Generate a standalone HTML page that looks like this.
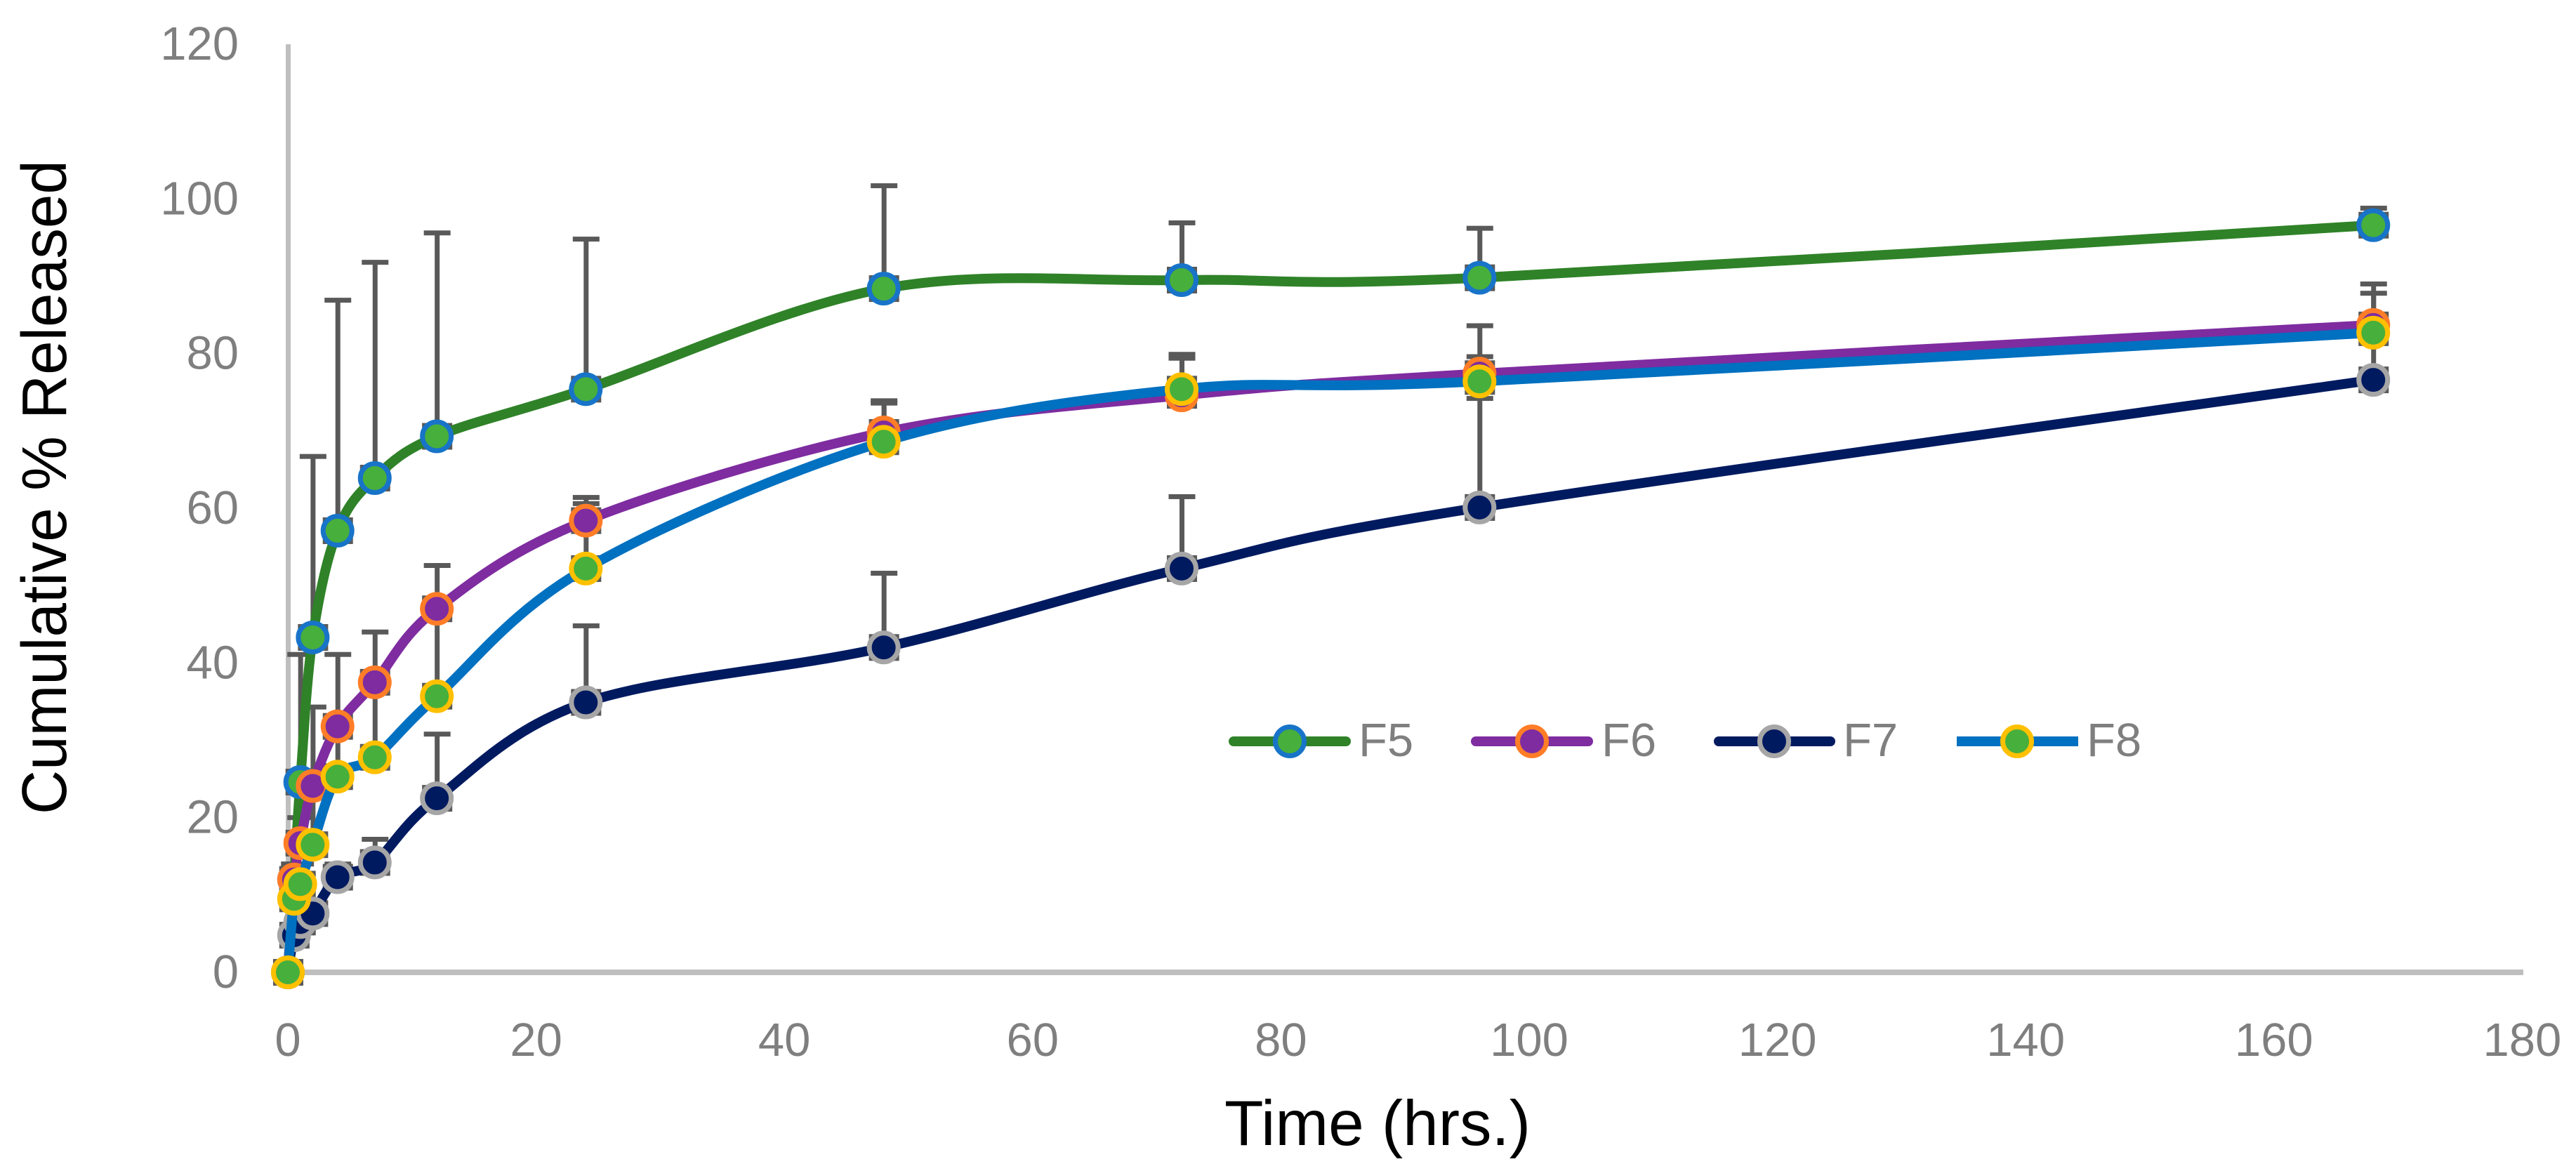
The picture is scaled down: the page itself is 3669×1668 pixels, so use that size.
<!DOCTYPE html>
<html lang="en">
<head>
<meta charset="utf-8">
<title>Cumulative % Released over Time</title>
<style>
html,body{margin:0;padding:0;background:#fff;width:3669px;height:1668px;overflow:hidden}
svg{display:block}
text{font-family:"Liberation Sans",sans-serif}
</style>
</head>
<body>
<svg id="chart" xmlns="http://www.w3.org/2000/svg" width="3669" height="1668" viewBox="0 0 3669 1668">
  <rect width="3669" height="1668" fill="#ffffff"/>
  <g id="tick-labels"></g>
  <rect x="407" y="63" width="7" height="1326" fill="#bfbfbf"/>
  <rect x="407" y="1381" width="3187" height="8" fill="#bfbfbf"/>
  <g id="error-layer"></g>
  <g id="series-layer"></g>
  <text transform="translate(94,1160) rotate(-90)" font-size="90" fill="#000" textLength="932" lengthAdjust="spacingAndGlyphs">Cumulative % Released</text>
  <text x="1744" y="1631" font-size="91" fill="#000" textLength="436" lengthAdjust="spacingAndGlyphs">Time (hrs.)</text>
  <g font-size="67" fill="#7f7f7f">
    <g>
      <line x1="1757" y1="1056" x2="1917" y2="1056" stroke="#2f8228" stroke-width="14" stroke-linecap="round"/>
      <circle cx="1837" cy="1056" r="20.5" fill="#47af3b" stroke="#1874c8" stroke-width="7"/>
      <text x="1935" y="1077">F5</text>
    </g>
    <g>
      <line x1="2102" y1="1056" x2="2262" y2="1056" stroke="#7e2ca0" stroke-width="14" stroke-linecap="round"/>
      <circle cx="2182" cy="1056" r="20.5" fill="#7e2ca0" stroke="#ff7d27" stroke-width="7"/>
      <text x="2281" y="1077">F6</text>
    </g>
    <g>
      <line x1="2448" y1="1056" x2="2607" y2="1056" stroke="#001a60" stroke-width="14" stroke-linecap="round"/>
      <circle cx="2527" cy="1056" r="20.5" fill="#001a60" stroke="#a6a6a6" stroke-width="7"/>
      <text x="2625" y="1077">F7</text>
    </g>
    <g>
      <line x1="2787" y1="1056" x2="2960" y2="1056" stroke="#0070c0" stroke-width="14"/>
      <circle cx="2873" cy="1056" r="20.5" fill="#47af3b" stroke="#ffc000" stroke-width="7"/>
      <text x="2972" y="1077">F8</text>
    </g>
  </g>
</svg>
<script>
const times = [0, 0.5, 1, 2, 4, 7, 12, 24, 48, 72, 96, 168];
const f5Values = [0, 12, 24.6, 43.3, 57.1, 63.9, 69.3, 75.4, 88.4, 89.5, 89.8, 96.6];
const f5Errors = [0, 14, 41.1, 66.7, 86.9, 91.8, 95.6, 94.8, 101.7, 96.9, 96.2, 98.8];
const f6Values = [0, 12, 16.7, 24.1, 31.8, 37.5, 47, 58.4, 69.8, 74.6, 77.4, 83.7];
const f6Errors = [0, 14, 20, 34.3, 41.1, 44, 52.6, 61.4, 73.9, 79.4, 83.6, 89];
const f7Values = [0, 4.8, 6.5, 7.6, 12.3, 14.2, 22.5, 34.9, 42, 52.2, 60.1, 76.6];
const f7Errors = [0, 6, 8, 9, 14, 17.2, 30.8, 44.8, 51.6, 61.5, 74.2, 82.9];
const f8Values = [0, 9.5, 11.4, 16.5, 25.3, 27.8, 35.7, 52.2, 68.6, 75.4, 76.4, 82.7];
const f8Errors = [0, 11, 14, 24.5, 31, 37, 47, 60.6, 73.6, 79.9, 79.6, 87.8];
const xTickLabels = [0, 20, 40, 60, 80, 100, 120, 140, 160, 180];
const yTickLabels = [0, 20, 40, 60, 80, 100, 120];

const NS = 'http://www.w3.org/2000/svg';
function xScale(t) { return 410 + t * 17.68; }
function yScale(v) { return 1385 - v * 11.017; }
function make(tag, attrs, parent) {
  const node = document.createElementNS(NS, tag);
  for (const key in attrs) node.setAttribute(key, attrs[key]);
  parent.appendChild(node);
  return node;
}
function smoothPath(points) {
  let d = 'M' + points[0][0] + ' ' + points[0][1];
  for (let i = 0; i < points.length - 1; i++) {
    const p0 = points[Math.max(i - 1, 0)];
    const p1 = points[i];
    const p2 = points[i + 1];
    const p3 = points[Math.min(i + 2, points.length - 1)];
    const c1x = p1[0] + (p2[0] - p0[0]) / 6;
    const c1y = p1[1] + (p2[1] - p0[1]) / 6;
    const c2x = p2[0] - (p3[0] - p1[0]) / 6;
    const c2y = p2[1] - (p3[1] - p1[1]) / 6;
    d += 'C' + c1x + ' ' + c1y + ' ' + c2x + ' ' + c2y + ' ' + p2[0] + ' ' + p2[1];
  }
  return d;
}

const tickLayer = document.getElementById('tick-labels');
xTickLabels.forEach(function (label) {
  const tick = make('text', { x: xScale(label), y: 1504, 'font-size': 67, fill: '#7f7f7f', 'text-anchor': 'middle' }, tickLayer);
  
  
  tick.textContent = label;
});
yTickLabels.forEach(function (label) {
  const tick = make('text', { x: 340, y: yScale(label) + 22, 'font-size': 67, fill: '#7f7f7f', 'text-anchor': 'end' }, tickLayer);
  
  
  tick.textContent = label;
});

const seriesList = [
  { key: 'f5', values: f5Values, errors: f5Errors, line: '#2f8228', fill: '#47af3b', ring: '#1874c8' },
  { key: 'f6', values: f6Values, errors: f6Errors, line: '#7e2ca0', fill: '#7e2ca0', ring: '#ff7d27' },
  { key: 'f7', values: f7Values, errors: f7Errors, line: '#001a60', fill: '#001a60', ring: '#a6a6a6' },
  { key: 'f8', values: f8Values, errors: f8Errors, line: '#0070c0', fill: '#47af3b', ring: '#ffc000' }
];

const errorLayer = document.getElementById('error-layer');
const seriesLayer = document.getElementById('series-layer');
seriesList.forEach(function (series) {
  series.values.forEach(function (value, i) {
    const cx = xScale(times[i]);
    const cy = yScale(value);
    const top = yScale(series.errors[i]);
    const box = make('rect', { x: cx - 21, y: cy - 19, width: 43, height: 38, fill: '#595959' }, errorLayer);
    
    
    const stem = make('rect', { x: cx - 3, y: top, width: 7, height: Math.max(cy - top, 0), fill: '#595959' }, errorLayer);
    
    
    const cap = make('rect', { x: cx - 18.5, y: top - 3.5, width: 38, height: 7, fill: '#595959' }, errorLayer);
    
    
  });
});
seriesList.forEach(function (series) {
  const points = series.values.map(function (value, i) {
    return [xScale(times[i]), yScale(value)];
  });
  const path = make('path', { d: smoothPath(points), fill: 'none', stroke: series.line, 'stroke-width': 14 }, seriesLayer);
  
  
  points.forEach(function (point) {
    const dot = make('circle', { cx: point[0], cy: point[1], r: 20.5, fill: series.fill, stroke: series.ring, 'stroke-width': 7 }, seriesLayer);
    
    
  });
});
</script>
</body>
</html>
